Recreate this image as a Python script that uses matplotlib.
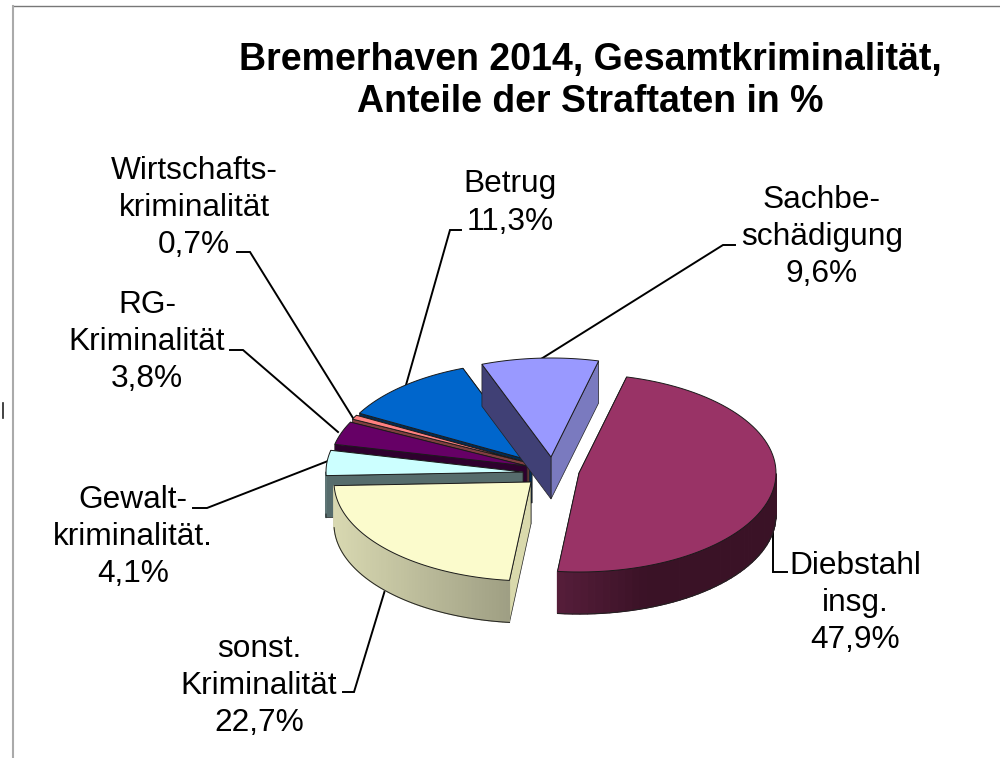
# -*- coding: utf-8 -*-
import numpy as np
import matplotlib
matplotlib.use('Agg')
import matplotlib.pyplot as plt
from matplotlib.patches import Polygon

plt.rcParams['font.family'] = ['Liberation Sans', 'DejaVu Sans']

# data, clockwise starting with Diebstahl
categories = ['Diebstahl\ninsg.', 'sonst.\nKriminalität', 'Gewalt-\nkriminalität.',
              'RG-\nKriminalität', 'Wirtschafts-\nkriminalität', 'Betrug', 'Sachbe-\nschädigung']
values = [47.9, 22.7, 4.1, 3.8, 0.7, 11.3, 9.6]
value_labels = ['47,9%', '22,7%', '4,1%', '3,8%', '0,7%', '11,3%', '9,6%']

# pie geometry in pixels
start_angle = 14.0
rx, ry = 197, 99
depth = 42
apex = [(579, 473), (531, 482), (523, 472), (527, 466), (529, 463), (532, 461), (551, 457)]

top_colors = ['#993366', '#FBFBCC', '#CCFFFF', '#660066', '#FF8080', '#0066CC', '#9999FF']
rim_left = ['#5a1f3d', '#dcdcb4', '#5f7676', '#2e002e', '#803f3f', '#00305f', '#40406f']
rim_right = ['#3a1226', '#93937a', '#566c6c', '#2e002e', '#803f3f', '#00305f', '#7a7abf']
face_start = ['#4d1a33', '#d9d9ac', '#566c6c', '#2e002e', '#803f3f', '#002c55', '#404075']
face_end = ['#4d1a33', '#d9d9ac', '#566c6c', '#2a002a', '#803f3f', '#002c55', '#7a7abf']
draw_order = [5, 4, 3, 2, 6, 0, 1]

# label position and leader line for each slice
label_pos = [(855, 603), (259, 686), (133, 537), (147, 342), (194, 208), (510, 203), (822, 237)]
leaders = [
    [(787, 572), (773, 572), (773, 520)],
    [(343, 692), (354, 692), (385, 590)],
    [(193, 508), (207, 508), (328, 461)],
    [(230, 350), (243, 350), (338, 432)],
    [(237, 252), (250, 252), (353, 418)],
    [(461, 230), (450, 230), (406, 385)],
    [(735, 245), (723, 245), (541, 359)],
]


def rim_xy(center, t):
    t = np.radians(t)
    return center[0] + rx * np.sin(t), center[1] - ry * np.cos(t)


def lerp_color(c1, c2, f):
    a = np.array(matplotlib.colors.to_rgb(c1))
    b = np.array(matplotlib.colors.to_rgb(c2))
    return a + (b - a) * f


fig = plt.figure(figsize=(10, 7.58), dpi=100)
ax = fig.add_axes([0, 0, 1, 1])
ax.set_xlim(0, 1000)
ax.set_ylim(758, 0)
ax.axis('off')

# frame of the pasted image
ax.plot([13, 1000], [6, 6], color='#777777', lw=1.0)
ax.plot([13, 13], [6, 758], color='#aaaaaa', lw=1.5)
ax.plot([3, 3], [403, 418], color='#222222', lw=1.2)

# leader lines go under the slices
for pts in leaders:
    ax.plot([p[0] for p in pts], [p[1] for p in pts], color='black', lw=1.4, zorder=2,
            solid_joinstyle='miter')

angles = start_angle + np.cumsum([0] + values) * 360.0 / sum(values)
z = 3
for i in draw_order:
    t0, t1 = angles[i], angles[i + 1]
    cx, cy = apex[i]
    ts = np.linspace(t0, t1, 80)
    rim = [rim_xy(apex[i], t) for t in ts]

    # cut faces
    p0 = rim_xy(apex[i], t0)
    p1 = rim_xy(apex[i], t1)
    ax.add_patch(Polygon([(cx, cy), p1, (p1[0], p1[1] + depth), (cx, cy + depth)],
                         fc=face_end[i], ec='#222222', lw=0.5, zorder=z))
    z += 1
    ax.add_patch(Polygon([(cx, cy), p0, (p0[0], p0[1] + depth), (cx, cy + depth)],
                         fc=face_start[i], ec='#222222', lw=0.5, zorder=z))
    z += 1

    # outer rim as small strips, shaded from left to right
    for k in range(len(ts) - 1):
        if not (90 <= (ts[k] % 360) <= 270):
            continue
        a = rim[k]
        b = rim[k + 1]
        f = (a[0] - (cx - rx)) / (2.0 * rx)
        if i == 1:
            f = (a[0] - (cx - rx)) / rx * 0.88 + 0.05
        elif i == 0:
            f = (a[0] - (cx - 30)) / 100.0
            f = max(f, 0)
        col = lerp_color(rim_left[i], rim_right[i], min(f, 1))
        ax.add_patch(Polygon([a, b, (b[0], b[1] + depth), (a[0], a[1] + depth)],
                             fc=col, ec=col, lw=0.9, zorder=z))
    z += 1
    low = [(p[0], p[1] + depth) for p, t in zip(rim, ts) if 90 <= (t % 360) <= 270]
    if low:
        ax.plot([p[0] for p in low], [p[1] for p in low], color='#222222', lw=0.7, zorder=z)

    ax.add_patch(Polygon([(cx, cy)] + rim, fc=top_colors[i], ec='#1a1a1a', lw=0.7,
                         joinstyle='miter', zorder=z + 1))
    z += 2

for i in range(len(values)):
    ax.text(label_pos[i][0], label_pos[i][1], categories[i] + '\n' + value_labels[i],
            ha='center', va='center', fontsize=22.8, color='black', linespacing=1.31,
            zorder=100)

ax.text(590, 81, 'Bremerhaven 2014, Gesamtkriminalität,\nAnteile der Straftaten in %',
        ha='center', va='center', fontsize=27, fontweight='bold', color='black',
        linespacing=1.23, zorder=100)

fig.savefig('out.png', dpi=100, facecolor='white')
